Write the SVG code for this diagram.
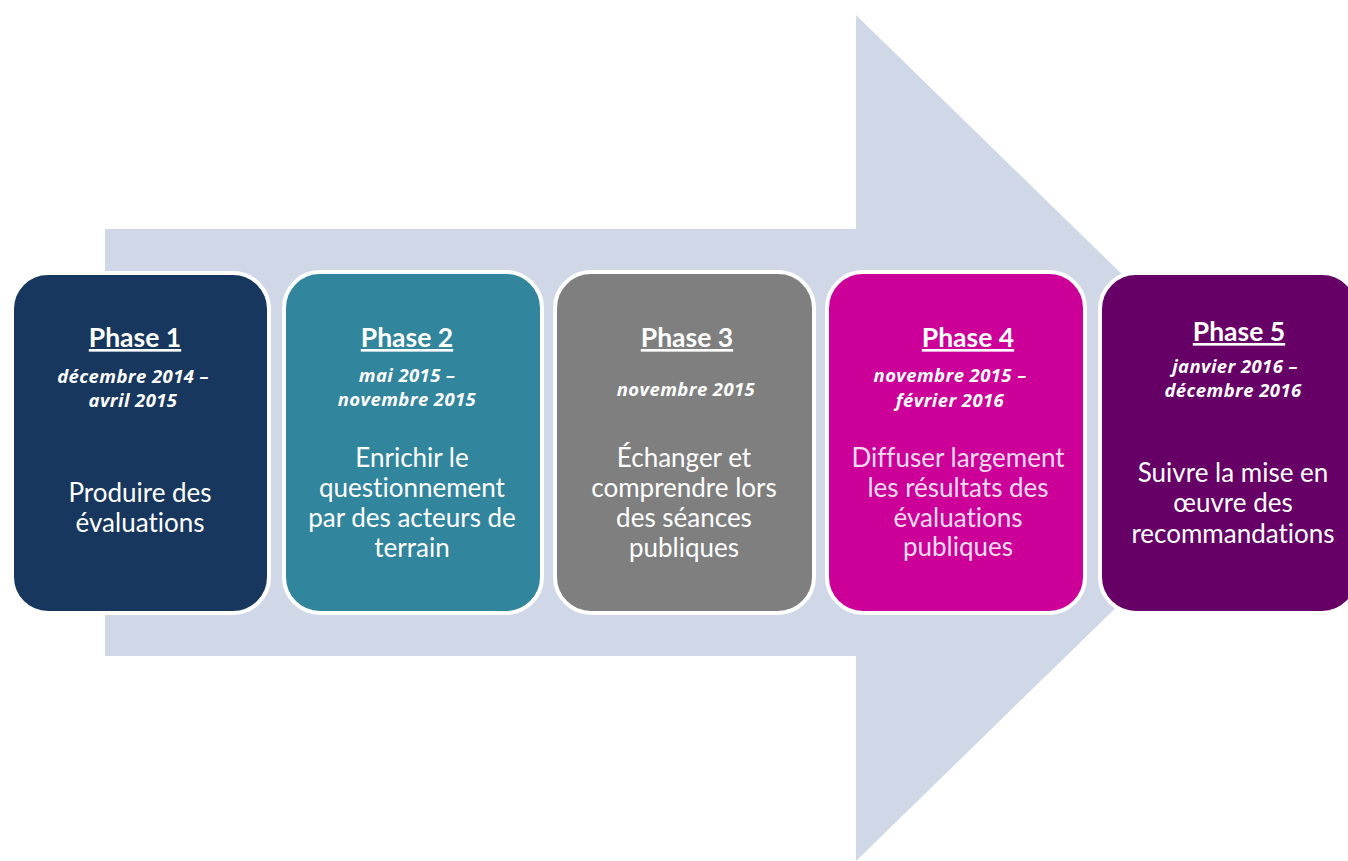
<svg xmlns="http://www.w3.org/2000/svg" width="1348" height="861" viewBox="0 0 1348 861">
<style>
.box{stroke:#FFFFFF;stroke-width:4}
.t{font-family:Lato,"Liberation Sans",sans-serif;fill:#FFFFFF;text-anchor:middle;font-variant-ligatures:none}
.title{font-size:26.5px;font-weight:bold;text-decoration:underline}
.date{font-family:"Open Sans",Lato,sans-serif;font-size:18.5px;font-weight:bold;font-style:italic;letter-spacing:0.4px}
.body{font-size:26px}
.pink{fill:#FADCF0}
</style>
<rect width="1348" height="861" fill="#FFFFFF"/>
<g id="arrow">
<polygon points="105,229 856,229 856,15 1290,438 856,861 856,656 105,656" fill="#D0D8E8"/>
</g>
<g id="connectors"/>
<g id="phase1">
<rect class="box" x="12" y="273" width="257" height="340" rx="36" fill="#17375E"/>
<text class="t title" x="135" y="347">Phase 1</text>
<text class="t date" x="133" y="383">décembre 2014 –</text>
<text class="t date" x="133" y="407">avril 2015</text>
<text class="t body" x="140" y="502">Produire des</text>
<text class="t body" x="140" y="532">évaluations</text>
</g>
<g id="phase2">
<rect class="box" x="284" y="272" width="258" height="341" rx="36" fill="#31859C"/>
<text class="t title" x="407" y="347">Phase 2</text>
<text class="t date" x="407" y="382">mai 2015 –</text>
<text class="t date" x="407" y="406">novembre 2015</text>
<text class="t body" x="412" y="467">Enrichir le</text>
<text class="t body" x="412" y="497">questionnement</text>
<text class="t body" x="412" y="527">par des acteurs de</text>
<text class="t body" x="412" y="557">terrain</text>
</g>
<g id="phase3">
<rect class="box" x="555" y="272" width="259" height="341" rx="36" fill="#7F7F7F"/>
<text class="t title" x="687" y="347">Phase 3</text>
<text class="t date" x="686" y="396">novembre 2015</text>
<text class="t body" x="684" y="467">Échanger et</text>
<text class="t body" x="684" y="497">comprendre lors</text>
<text class="t body" x="684" y="527">des séances</text>
<text class="t body" x="684" y="557">publiques</text>
</g>
<g id="phase4">
<rect class="box" x="827" y="272" width="258" height="341" rx="36" fill="#CC0099"/>
<text class="t title" x="968" y="347">Phase 4</text>
<text class="t date" x="950" y="382">novembre 2015 –</text>
<text class="t date" x="950" y="407">février 2016</text>
<text class="t body pink" x="958" y="467">Diffuser largement</text>
<text class="t body pink" x="958" y="497">les résultats des</text>
<text class="t body pink" x="958" y="527">évaluations</text>
<text class="t body pink" x="958" y="556">publiques</text>
</g>
<g id="phase5">
<rect class="box" x="1100" y="273" width="258" height="340" rx="36" fill="#660066"/>
<text class="t title" x="1239" y="341">Phase 5</text>
<text class="t date" x="1235" y="373">janvier 2016 –</text>
<text class="t date" x="1233" y="397">décembre 2016</text>
<text class="t body" x="1233" y="482">Suivre la mise en</text>
<text class="t body" x="1233" y="512">œuvre des</text>
<text class="t body" x="1233" y="543">recommandations</text>
</g>
</svg>
